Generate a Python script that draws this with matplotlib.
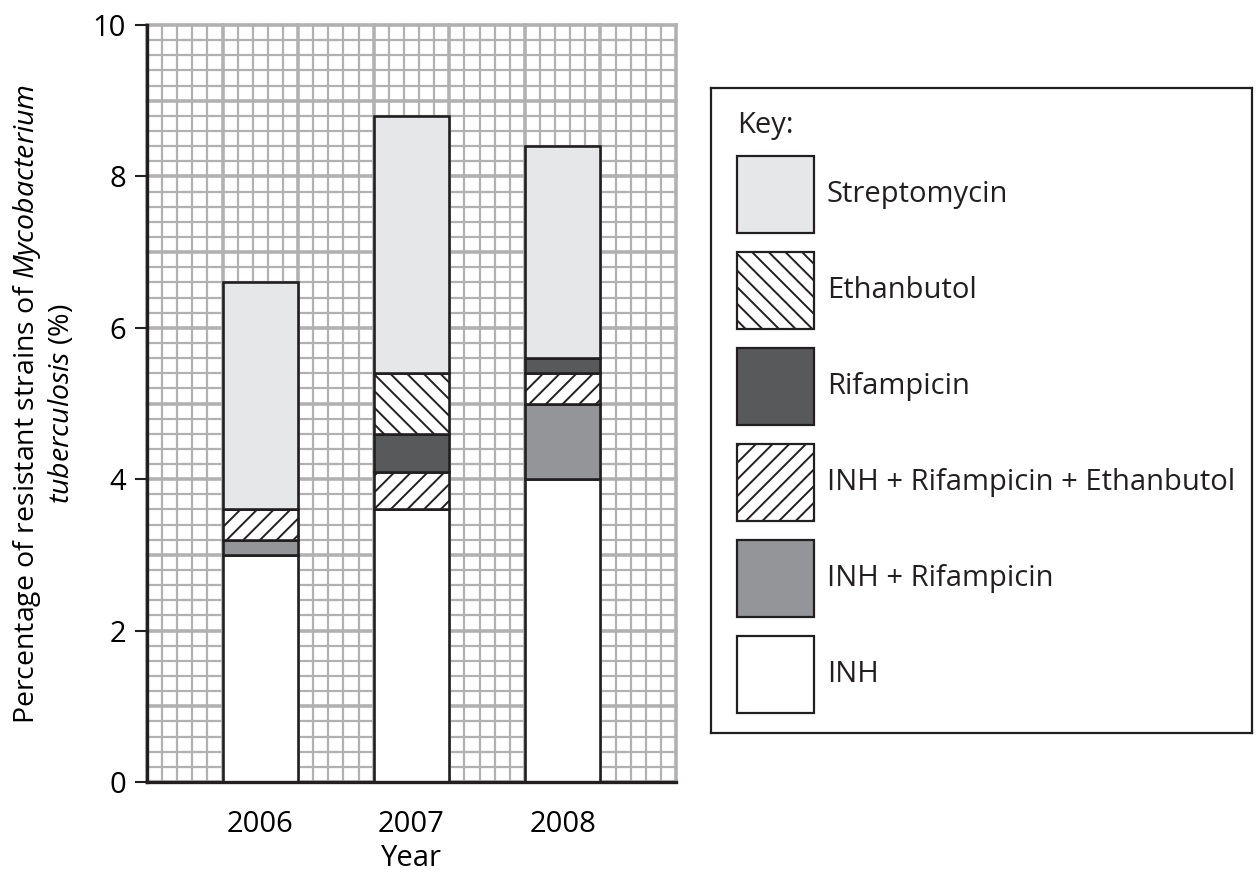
import numpy as np
import matplotlib
matplotlib.use("Agg")
import matplotlib.pyplot as plt
from matplotlib.patches import Rectangle

# data (stacked bottom -> top)
years = ["2006", "2007", "2008"]
inh = [3.0, 3.6, 4.0]
inh_rif = [0.2, 0.0, 1.0]
inh_rif_eth = [0.4, 0.5, 0.4]
rifampicin = [0.0, 0.5, 0.2]
ethanbutol = [0.0, 0.8, 0.0]
streptomycin = [3.0, 3.4, 2.8]

series = [
    ("INH", inh, "white", None),
    ("INH + Rifampicin", inh_rif, "#939598", None),
    ("INH + Rifampicin + Ethanbutol", inh_rif_eth, "white", "//"),
    ("Rifampicin", rifampicin, "#58595b", None),
    ("Ethanbutol", ethanbutol, "white", "\\\\"),
    ("Streptomycin", streptomycin, "#e6e7e8", None),
]

INK = "#231f20"
GRID = "#b1b1b1"
FS = 21

plt.rcParams["font.family"] = "Open Sans"
plt.rcParams["mathtext.fontset"] = "custom"
plt.rcParams["mathtext.it"] = "Open Sans:italic"
plt.rcParams["mathtext.rm"] = "Open Sans"
plt.rcParams["hatch.linewidth"] = 1.4
plt.rcParams["hatch.color"] = INK
plt.rcParams["text.color"] = INK

W, H = 1256, 875
fig = plt.figure(figsize=(W / 100, H / 100), dpi=100)
ax = fig.add_axes([147 / W, 93 / H, 529 / W, 757 / H])

x = np.arange(len(years))
bottom = np.zeros(len(years))
for name, vals, col, hatch in series:
    vals = np.array(vals)
    ax.bar(x, vals, 0.5, bottom=bottom, color=col, edgecolor=INK,
           linewidth=1.9, hatch=hatch, zorder=3)
    bottom += vals

ax.set_xlim(-0.75, 2.75)
ax.set_ylim(0, 10)

# graph paper grid
for k in range(36):
    xv = -0.75 + 0.1 * k
    ax.axvline(xv, color=GRID, lw=2.6 if k % 5 == 0 else 1.6, zorder=1, clip_on=False)
for k in range(51):
    yv = 0.2 * k
    ax.axhline(yv, color=GRID, lw=2.6 if k % 5 == 0 else 1.6, zorder=1, clip_on=False)

for s in ["top", "right"]:
    ax.spines[s].set_visible(False)
for s in ["left", "bottom"]:
    ax.spines[s].set_linewidth(2.4)
    ax.spines[s].set_color(INK)
    ax.spines[s].set_zorder(4)

ax.set_yticks(range(0, 11, 2))
ax.set_xticks(x)
ax.set_xticklabels(years)
ax.tick_params(axis="y", length=9, width=1.5, color=INK, labelsize=FS, pad=6)
ax.tick_params(axis="x", length=0, labelsize=FS, pad=20)

ax.set_xlabel("Year", fontsize=FS, labelpad=4)
ax.set_ylabel("Percentage of resistant strains of $\\it{Mycobacterium}$\n$\\it{tuberculosis}$ (%)",
              fontsize=20.5, labelpad=12, multialignment="center")

# key box
lax = fig.add_axes([711 / W, (H - 733) / H, 541 / W, 645 / H])
lax.set_xlim(0, 541)
lax.set_ylim(645, 0)
lax.set_xticks([])
lax.set_yticks([])
for s in lax.spines.values():
    s.set_linewidth(1.6)
    s.set_color(INK)

lax.text(26, 37, "Key:", fontsize=FS, va="center", ha="left")
for i, (name, vals, col, hatch) in enumerate(reversed(series)):
    top = 68 + 96 * i
    lax.add_patch(Rectangle((26, top), 77, 77, facecolor=col, edgecolor=INK,
                            linewidth=1.6, hatch=hatch))
    lax.text(116, top + 38.5, name, fontsize=FS, va="center", ha="left")

fig.savefig("out.png", dpi=100)
